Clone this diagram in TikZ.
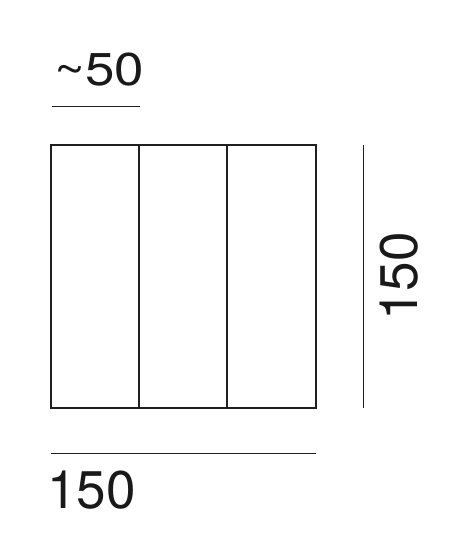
\documentclass[tikz,border=0pt]{standalone}
\usepackage{fontspec}
\setmainfont{TeX Gyre Heros}
\begin{document}
\begin{tikzpicture}[x=1pt, y=-1pt,
    panel/.style={draw=black!88, line width=2.3pt},
    dimline/.style={draw=black!88, line width=1pt},
    dimtext/.style={inner sep=0pt, text=black!90, font=\fontsize{53}{53}\selectfont},
    smalltext/.style={dimtext, font=\fontsize{46}{46}\selectfont}
]
    \useasboundingbox (0,0) rectangle (468,559);
    % the three panels
    \coordinate (nw) at (51,145);
    \coordinate (se) at (316,408);
    \coordinate (d1t) at (139,145);
    \coordinate (d1b) at (139,408);
    \coordinate (d2t) at (227,145);
    \coordinate (d2b) at (227,408);
    \draw[panel] (nw) rectangle (se);
    \draw[panel] (d1t) -- (d1b);
    \draw[panel] (d2t) -- (d2b);
    % dimensions
    \coordinate (topa) at (52,107);
    \coordinate (topb) at (140,107);
    \coordinate (bota) at (51,453);
    \coordinate (botb) at (316,453);
    \coordinate (righta) at (363,145);
    \coordinate (rightb) at (363,408);
    \draw[dimline] (topa) -- (topb);
    \draw[dimline] (bota) -- (botb);
    \draw[dimline] (righta) -- (rightb);
    \node[smalltext, anchor=base west] (panelw) at (54,86) {\scalebox{1.15}[1]{\textasciitilde50}};
    \node[dimtext, anchor=base west] (totalw) at (47,508) {150};
    \node[dimtext, anchor=base west, rotate=90] (totalh) at (417,321) {150};
\end{tikzpicture}
\end{document}
